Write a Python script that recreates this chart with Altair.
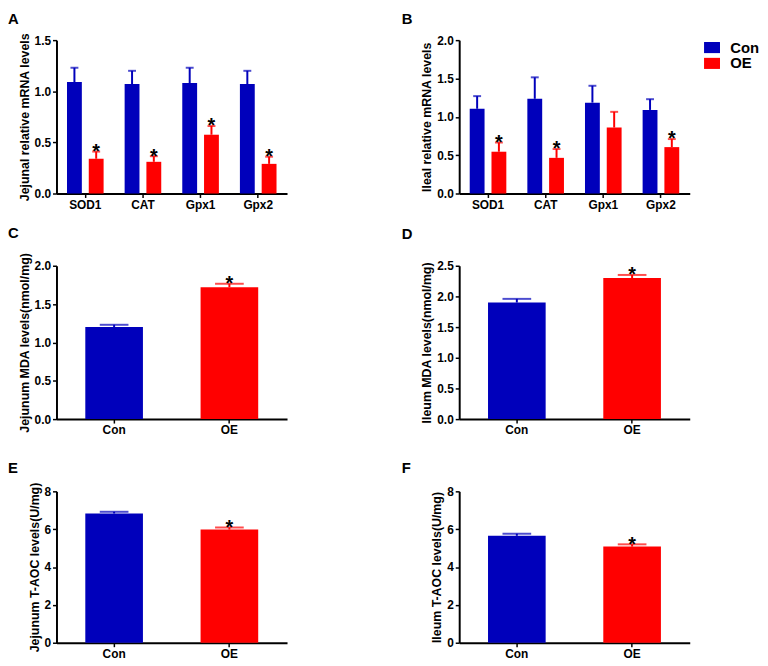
import altair as alt
import pandas as pd

FONT = "Liberation Sans"
BLUE = "#0000BB"
RED = "#FF0000"

genes = ["SOD1", "CAT", "Gpx1", "Gpx2"]
groups = ["Con", "OE"]

# Panel A: jejunal relative mRNA levels (mean, SEM)
a_con = [1.09, 1.07, 1.08, 1.07]
a_con_sem = [0.14, 0.13, 0.15, 0.13]
a_oe = [0.34, 0.31, 0.575, 0.29]
a_oe_sem = [0.07, 0.055, 0.085, 0.07]
a_sig = ["*", "*", "*", "*"]

# Panel B: ileal relative mRNA levels
b_con = [1.105, 1.235, 1.185, 1.09]
b_con_sem = [0.165, 0.28, 0.22, 0.14]
b_oe = [0.545, 0.465, 0.86, 0.605]
b_oe_sem = [0.12, 0.115, 0.205, 0.105]
b_sig = ["*", "*", "", "*"]

# Panels C-F: Con, OE
c_mean = [1.20, 1.72]
c_sem = [0.03, 0.045]
d_mean = [1.90, 2.30]
d_sem = [0.06, 0.05]
e_mean = [6.83, 5.98]
e_sem = [0.09, 0.11]
f_mean = [5.65, 5.08]
f_sem = [0.11, 0.12]
two_sig = ["", "*"]

color_scale = alt.Scale(domain=groups, range=[BLUE, RED])
shown_legend = alt.Legend(
    title=None, orient="right", offset=15,
    symbolType="M-1.15,-0.8H1.15V0.8H-1.15Z", symbolSize=196,
    symbolStrokeWidth=0, symbolOpacity=1,
    labelFontSize=15, labelFontWeight="bold", labelFont=FONT, labelColor="black",
    labelOffset=11, rowPadding=-1, padding=0,
)


def label_layer(letter, lx, ly):
    return alt.Chart(pd.DataFrame({"t": [letter]})).mark_text(
        align="left", baseline="alphabetic", fontSize=15, fontWeight="bold",
        font=FONT, color="black"
    ).encode(text="t:N", x=alt.value(lx), y=alt.value(ly))


def make_y(field, ymax, ystep, fmt, ytitle):
    n = int(round(ymax / ystep))
    return alt.Y(
        field, title=ytitle,
        scale=alt.Scale(domain=[0, ymax], nice=False),
        axis=alt.Axis(values=[round(i * ystep, 3) for i in range(n + 1)], format=fmt),
    )


def grouped_panel(con, con_sem, oe, oe_sem, sig, ymax, ytitle, letter, lx, ly, h, show_legend):
    rows = []
    for i, g in enumerate(genes):
        rows.append(dict(gene=g, group="Con", mean=con[i], upper=con[i] + con_sem[i], sig=""))
        rows.append(dict(gene=g, group="OE", mean=oe[i], upper=oe[i] + oe_sem[i], sig=sig[i]))
    df = pd.DataFrame(rows)
    base = alt.Chart(df)
    x = alt.X("gene:N", sort=genes, title=None,
              scale=alt.Scale(paddingInner=0, paddingOuter=0),
              axis=alt.Axis(labelAngle=0))
    xo = alt.XOffset("group:N", sort=groups,
                     scale=alt.Scale(paddingInner=0.318, paddingOuter=0.483))
    color = alt.Color("group:N", scale=color_scale,
                      legend=shown_legend if show_legend else None)
    bars = base.mark_bar().encode(
        x=x, xOffset=xo, y=make_y("mean:Q", ymax, 0.5, ".1f", ytitle), color=color)
    whisk = base.mark_rule(strokeWidth=2).encode(
        x=x, xOffset=xo, y=make_y("mean:Q", ymax, 0.5, ".1f", ytitle), y2="upper:Q", color=color)
    cap = base.mark_tick(thickness=2, size=8).encode(
        x=x, xOffset=xo, y=make_y("upper:Q", ymax, 0.5, ".1f", ytitle), color=color)
    star = base.transform_filter(alt.datum.sig == "*").mark_text(
        baseline="alphabetic", dy=6.5, fontSize=20, fontWeight="bold", font=FONT, color="black"
    ).encode(x=x, xOffset=xo, y=make_y("upper:Q", ymax, 0.5, ".1f", ytitle), text="sig:N")
    return alt.layer(bars, whisk, cap, star, label_layer(letter, lx, ly)).properties(
        width=233, height=h)


def simple_panel(mean, sem, ymax, ystep, fmt, ytitle, letter, lx, ly, h):
    df = pd.DataFrame({
        "group": groups,
        "mean": mean,
        "upper": [m + s for m, s in zip(mean, sem)],
        "sig": two_sig,
    })
    base = alt.Chart(df)
    x = alt.X("group:N", sort=groups, title=None,
              scale=alt.Scale(paddingInner=0.5, paddingOuter=0.25),
              axis=alt.Axis(labelAngle=0))
    color = alt.Color("group:N", scale=color_scale, legend=None)
    bars = base.mark_bar().encode(
        x=x, y=make_y("mean:Q", ymax, ystep, fmt, ytitle), color=color)
    whisk = base.mark_rule(strokeWidth=2).encode(
        x=x, y=make_y("mean:Q", ymax, ystep, fmt, ytitle), y2="upper:Q", color=color)
    cap = base.mark_tick(thickness=2, size=29).encode(
        x=x, y=make_y("upper:Q", ymax, ystep, fmt, ytitle), color=color)
    star = base.transform_filter(alt.datum.sig == "*").mark_text(
        baseline="alphabetic", dy=6.5, fontSize=20, fontWeight="bold", font=FONT, color="black"
    ).encode(x=x, y=make_y("upper:Q", ymax, ystep, fmt, ytitle), text="sig:N")
    return alt.layer(bars, whisk, cap, star, label_layer(letter, lx, ly)).properties(
        width=233, height=h)


A = grouped_panel(a_con, a_con_sem, a_oe, a_oe_sem, a_sig, 1.5,
                  "Jejunal relative mRNA levels", "A", -49, -16.5, 155, False)
B = grouped_panel(b_con, b_con_sem, b_oe, b_oe_sem, b_sig, 2.0,
                  "Ileal relative mRNA levels", "B", -58, -16.5, 155, True)
C = simple_panel(c_mean, c_sem, 2.0, 0.5, ".1f", "Jejunum MDA levels(nmol/mg)", "C", -49, -28, 155)
D = simple_panel(d_mean, d_sem, 2.5, 0.5, ".1f", "Ileum MDA levels(nmol/mg)", "D", -58, -27, 155)
E = simple_panel(e_mean, e_sem, 8, 2, "d", "Jejunum T-AOC levels(U/mg)", "E", -49, -19, 153)
F = simple_panel(f_mean, f_sem, 8, 2, "d", "Ileum T-AOC levels(U/mg)", "F", -58, -19, 153)

chart = alt.concat(
    A, B, C, D, E, F, columns=2, spacing={"row": 73, "column": 174}, bounds="flush"
).resolve_scale(color="independent").properties(padding=0).configure_view(
    stroke=None
).configure_axis(
    domainColor="black", domainWidth=2, tickColor="black", tickWidth=1.5, tickSize=4,
    labelColor="black", labelFont=FONT, labelFontSize=12, labelFontWeight="bold",
    titleFont=FONT, titleFontSize=12.5, titleFontWeight="bold", titleColor="black",
    grid=False, labelPadding=2, titlePadding=3,
)

chart.save("out.html", embed_options={"renderer": "svg", "actions": False})
